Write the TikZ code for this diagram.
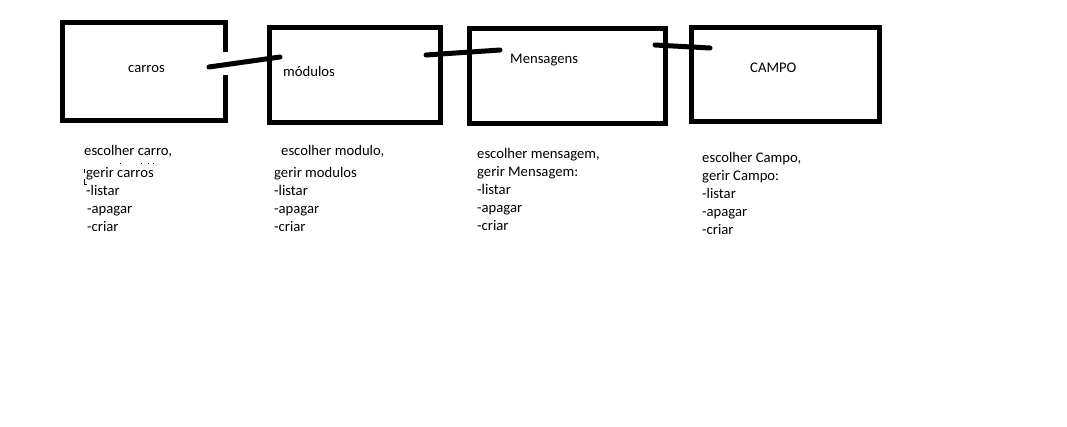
\documentclass[tikz,border=0pt]{standalone}
\usepackage{fontspec}
\setmainfont{Carlito}
\begin{document}
\begin{tikzpicture}[x=1pt,y=-1pt,
  box/.style={rectangle,line width=5pt,inner sep=0pt,miter limit=10},
  wire/.style={line width=5pt,line cap=round},
  lbl/.style={anchor=base west,inner sep=0pt,font=\fontsize{14.67}{18}\selectfont},
  frag/.style={line width=1pt}]
\useasboundingbox[fill=white] (0,0) rectangle (1067,426);
% boxes
\node[box,minimum width=158pt,minimum height=93pt] (carros) at (143.5,71) {};
\draw[line width=5pt] (carros.north east |- 0,52) -- (carros.north east) -- (carros.north west) -- (carros.south west) -- (carros.south east) -- (carros.south east |- 0,75);
\node[box,draw,minimum width=171.5pt,minimum height=95pt] (modulos) at (354.75,75) {};
\node[box,draw,minimum width=196pt,minimum height=95pt] (mensagens) at (567.5,76) {};
\node[box,draw,minimum width=188pt,minimum height=94pt] (campo) at (785.5,74.5) {};
% box titles
\node[lbl] (tcarros) at (128,72) {carros};
\node[lbl] (tmodulos) at (283,76) {módulos};
\node[lbl] (tmensagens) at (510,63) {Mensagens};
\node[lbl] (tcampo) at (750,72.5) {CAMPO};
% connector ends
\coordinate (a1) at (209,67);
\coordinate (a2) at (280,57);
\coordinate (b1) at (426,55);
\coordinate (b2) at (500,50);
\coordinate (c1) at (655,45);
\coordinate (c2) at (710,48);
\draw[wire] (a1) -- (a2);
\draw[wire] (b1) -- (b2);
\draw[wire] (c1) -- (c2);
% column 1
\node[lbl] (c1l1) at (84,155) {escolher carro,};
\node[lbl] (c1l2) at (86,177) {gerir carros};
\node[lbl] (c1l3) at (86,195) {-listar};
\node[lbl] (c1l4) at (87,213) {-apagar};
\node[lbl] (c1l5) at (87,231) {-criar};
\draw[frag] (84.5,169) -- (84.5,173);
\draw[frag] (84.5,179) -- (84.5,184.5) -- (86.5,184.5);
\foreach \fx in {120,141,148,153} \fill (\fx,162.5) rectangle ++(1.2,1.2);
% column 2
\node[lbl] (c2l1) at (281,155) {escolher modulo,};
\node[lbl] (c2l2) at (274,177) {gerir modulos};
\node[lbl] (c2l3) at (274,195) {-listar};
\node[lbl] (c2l4) at (274,213) {-apagar};
\node[lbl] (c2l5) at (274,231) {-criar};
% column 3
\node[lbl] (c3l1) at (477,158.5) {escolher mensagem,};
\node[lbl] (c3l2) at (477,176.5) {gerir Mensagem:};
\node[lbl] (c3l3) at (477,194.5) {-listar};
\node[lbl] (c3l4) at (477,212.5) {-apagar};
\node[lbl] (c3l5) at (477,230.5) {-criar};
% column 4
\node[lbl] (c4l1) at (702,162.5) {escolher Campo,};
\node[lbl] (c4l2) at (702,180.5) {gerir Campo:};
\node[lbl] (c4l3) at (702,198.5) {-listar};
\node[lbl] (c4l4) at (702,216.5) {-apagar};
\node[lbl] (c4l5) at (702,234.5) {-criar};
\end{tikzpicture}
\end{document}
